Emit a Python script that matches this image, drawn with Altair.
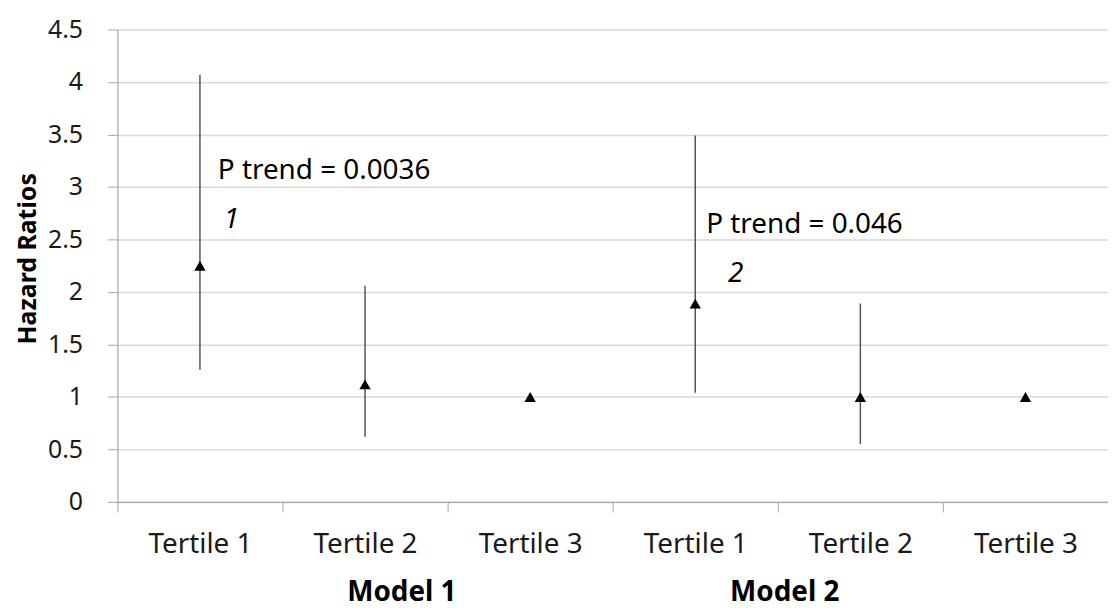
import altair as alt
import pandas as pd

# ---- data ----
models = ["Model 1", "Model 1", "Model 1", "Model 2", "Model 2", "Model 2"]
tertiles = ["Tertile 1", "Tertile 2", "Tertile 3", "Tertile 1", "Tertile 2", "Tertile 3"]
hazard = [2.25, 1.12, 1.0, 1.89, 1.0, 1.0]
ci_low = [1.26, 0.62, None, 1.04, 0.55, None]
ci_high = [4.07, 2.06, None, 3.49, 1.89, None]

y_ticks = [0, 0.5, 1, 1.5, 2, 2.5, 3, 3.5, 4, 4.5]

ptrend_text = ["P trend = 0.0036", "P trend = 0.046"]
ptrend_y = [3.08, 2.56]
foot_text = ["1", "2"]
foot_y = [2.605, 2.094]

keys = [f"{m}|{t}" for m, t in zip(models, tertiles)]
df = pd.DataFrame({"key": keys, "model": models, "tertile": tertiles,
                   "hr": hazard, "low": ci_low, "high": ci_high})

FONT = "Noto Sans"
W, H = 996, 475

x_enc = alt.X("key:N", sort=keys,
              scale=alt.Scale(domain=keys, paddingInner=0, paddingOuter=0),
              axis=alt.Axis(title=None, labelExpr="split(datum.label, '|')[1]",
                            labelAngle=0, labelFontSize=28, labelFont=FONT,
                            labelColor="#1a1a1a", labelPadding=19, tickSize=10,
                            tickBand="extent", tickColor="#a6a6a6",
                            domainColor="#a6a6a6", domainWidth=1.2, grid=False))
y_scale = alt.Scale(domain=[0, 4.5], nice=False, zero=True)

base = alt.Chart(df)

rules = base.transform_filter("isValid(datum.low)").mark_rule(
    color="#555555", strokeWidth=1.5).encode(
    x=x_enc,
    y=alt.Y("low:Q", scale=y_scale,
            axis=alt.Axis(values=y_ticks, format=".1~f", title="Hazard Ratios",
                          titleFont=FONT, titleFontSize=25, titleFontWeight="bold",
                          titleColor="#000000", titleX=-90, titleY=230,
                          titleAngle=-90, titleAlign="center", titleBaseline="middle",
                          labelFontSize=25, labelFont=FONT, labelColor="#1a1a1a",
                          labelPadding=25, tickSize=10, tickColor="#a6a6a6",
                          domainColor="#a6a6a6", domainWidth=1.2,
                          grid=True, gridColor="#d9d9d9", gridWidth=1.5)),
    y2="high:Q",
)

points = base.mark_point(shape="triangle-up", filled=True, color="#000000",
                         size=130, opacity=1).encode(
    x=alt.X("key:N", sort=keys),
    y=alt.Y("hr:Q", scale=y_scale),
)

layers = [rules, points]

ann_df = pd.DataFrame({"key": [keys[0], keys[3]], "txt": ptrend_text, "y": ptrend_y})
foot_df = pd.DataFrame({"key": [keys[0], keys[3]], "txt": foot_text, "y": foot_y})

dx_ptrend = [18, 11]
dx_foot = [24, 33]
for i in range(2):
    layers.append(alt.Chart(ann_df.iloc[[i]]).mark_text(
        align="left", baseline="alphabetic", font=FONT, fontSize=28,
        color="#000000", dx=dx_ptrend[i]).encode(
        x=alt.X("key:N", sort=keys), y=alt.Y("y:Q", scale=y_scale), text="txt:N"))
    layers.append(alt.Chart(foot_df.iloc[[i]]).mark_text(
        align="left", baseline="alphabetic", font=FONT, fontSize=28,
        fontStyle="italic", color="#000000", dx=dx_foot[i]).encode(
        x=alt.X("key:N", sort=keys), y=alt.Y("y:Q", scale=y_scale), text="txt:N"))

model_df = pd.DataFrame({"key": [keys[1], keys[3]], "txt": ["Model 1", "Model 2"]})
model_dx = [37, 90]
for i in range(2):
    layers.append(alt.Chart(model_df.iloc[[i]]).mark_text(
        align="center", baseline="alphabetic", font=FONT, fontSize=28,
        fontWeight="bold", color="#000000", dx=model_dx[i]).encode(
        x=alt.X("key:N", sort=keys), y=alt.value(H + 100), text="txt:N"))

chart = alt.layer(*layers).properties(
    width=W, height=H,
    autosize=alt.AutoSizeParams(type="none"),
    padding={"left": 110, "top": 20, "right": 0, "bottom": 109},
    background="white",
).configure_view(strokeWidth=0)

chart.save("out.html", embed_options={"renderer": "svg", "actions": False})
